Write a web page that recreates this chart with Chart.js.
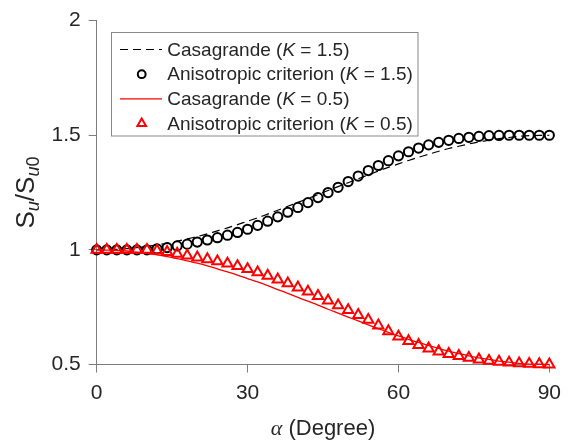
<!DOCTYPE html>
<html>
<head>
<meta charset="utf-8">
<script src="https://cdn.jsdelivr.net/npm/chart.js@4.4.1/dist/chart.umd.min.js"></script>
<style>
  html, body { margin: 0; padding: 0; background: #ffffff; }
  #wrap { width: 569px; height: 440px; }
</style>
</head>
<body>
<div id="wrap"><canvas id="c" width="569" height="440"></canvas></div>
<script>
// Inclination angle of the loading direction (degrees)
const alphaDeg = [0, 2, 4, 6, 8, 10, 12, 14, 16, 18, 20, 22, 24, 26, 28, 30, 32, 34, 36, 38, 40, 42, 44,
  46, 48, 50, 52, 54, 56, 58, 60, 62, 64, 66, 68, 70, 72, 74, 76, 78, 80, 82, 84, 86, 88, 90];

// Casagrande, K = 1.5
const casaK15 = [1.000, 1.001, 1.002, 1.005, 1.010, 1.015, 1.022, 1.029, 1.038, 1.048, 1.058, 1.070,
  1.083, 1.096, 1.110, 1.125, 1.140, 1.156, 1.173, 1.190, 1.207, 1.224, 1.241, 1.259, 1.276, 1.293,
  1.310, 1.327, 1.344, 1.360, 1.375, 1.390, 1.404, 1.417, 1.430, 1.442, 1.452, 1.462, 1.471, 1.478,
  1.485, 1.490, 1.495, 1.498, 1.499, 1.500];

// Anisotropic criterion, K = 1.5
const anisoK15 = [1.000, 1.000, 1.000, 1.000, 1.000, 1.000, 1.004, 1.010, 1.017, 1.025, 1.034, 1.043,
  1.053, 1.064, 1.076, 1.090, 1.107, 1.125, 1.144, 1.164, 1.185, 1.206, 1.228, 1.250, 1.273, 1.298,
  1.322, 1.346, 1.368, 1.389, 1.410, 1.428, 1.444, 1.458, 1.469, 1.478, 1.486, 1.491, 1.495, 1.498,
  1.499, 1.500, 1.500, 1.500, 1.500, 1.500];

// Casagrande, K = 0.5
const casaK05 = [1.000, 0.999, 0.998, 0.995, 0.990, 0.985, 0.978, 0.971, 0.962, 0.952, 0.942, 0.930,
  0.917, 0.904, 0.890, 0.875, 0.860, 0.844, 0.827, 0.810, 0.793, 0.776, 0.759, 0.741, 0.724, 0.707,
  0.690, 0.673, 0.656, 0.640, 0.625, 0.610, 0.596, 0.583, 0.570, 0.558, 0.548, 0.538, 0.529, 0.522,
  0.515, 0.510, 0.505, 0.502, 0.501, 0.500];

// Anisotropic criterion, K = 0.5
const anisoK05 = [1.000, 1.000, 1.000, 1.000, 1.000, 1.000, 0.997, 0.991, 0.983, 0.975, 0.967, 0.959,
  0.950, 0.940, 0.929, 0.916, 0.902, 0.887, 0.871, 0.854, 0.836, 0.818, 0.799, 0.779, 0.758, 0.737,
  0.716, 0.695, 0.670, 0.645, 0.622, 0.602, 0.585, 0.570, 0.557, 0.546, 0.537, 0.529, 0.522, 0.516,
  0.512, 0.508, 0.505, 0.503, 0.501, 0.500];

const xTicks = [0, 30, 60, 90];
const yTicks = [0.5, 1, 1.5, 2];

const seriesNames = ['Casagrande', 'Anisotropic criterion', 'Casagrande', 'Anisotropic criterion'];
const kValues = ['1.5', '1.5', '0.5', '0.5'];

const FONT = "'Liberation Sans', Arial, Helvetica, sans-serif";
const AXIS_GREY = '#7d7d7d';
const TEXT_GREY = '#262626';

const toPoints = ys => alphaDeg.map((a, i) => ({ x: a, y: ys[i] }));

const datasets = [
  {
    label: seriesNames[0] + ' (K = ' + kValues[0] + ')',
    data: toPoints(casaK15),
    borderColor: '#000000', borderWidth: 1.2, borderDash: [8, 5],
    pointRadius: 0, tension: 0.3, fill: false, order: 4, clip: false
  },
  {
    label: seriesNames[1] + ' (K = ' + kValues[1] + ')',
    data: toPoints(anisoK15),
    showLine: false, pointStyle: 'circle', pointRadius: 4.6,
    pointBorderWidth: 2, pointBorderColor: '#000000', pointBackgroundColor: 'rgba(0,0,0,0)',
    order: 3, clip: false
  },
  {
    label: seriesNames[2] + ' (K = ' + kValues[2] + ')',
    data: toPoints(casaK05),
    borderColor: '#ff0000', borderWidth: 1.3,
    pointRadius: 0, tension: 0.3, fill: false, order: 2, clip: false
  },
  {
    label: seriesNames[3] + ' (K = ' + kValues[3] + ')',
    data: toPoints(anisoK05),
    showLine: false, pointStyle: 'triangle', pointRadius: 5.9,
    pointBorderWidth: 2, pointBorderColor: '#ff0000', pointBackgroundColor: 'rgba(0,0,0,0)',
    order: 1, clip: false
  }
];

// Draw a run of text pieces, some italic, starting at x
function drawRuns(ctx, runs, x, y, size, family) {
  let cx = x;
  runs.forEach(r => {
    ctx.font = (r.italic ? 'italic ' : '') + (r.size || size) + 'px ' + (r.family || family);
    ctx.fillText(r.t, cx, y + (r.dy || 0));
    cx += ctx.measureText(r.t).width;
  });
  return cx - x;
}
function measureRuns(ctx, runs, size, family) {
  let w = 0;
  runs.forEach(r => {
    ctx.font = (r.italic ? 'italic ' : '') + (r.size || size) + 'px ' + (r.family || family);
    w += ctx.measureText(r.t).width;
  });
  return w;
}

function drawMarker(ctx, style, x, y, r, color, lw) {
  ctx.save();
  ctx.strokeStyle = color;
  ctx.lineWidth = lw;
  ctx.beginPath();
  if (style === 'circle') {
    ctx.arc(x, y, r, 0, Math.PI * 2);
  } else {
    let rad = 0;
    ctx.moveTo(x + Math.sin(rad) * r, y - Math.cos(rad) * r);
    rad += 2 * Math.PI / 3;
    ctx.lineTo(x + Math.sin(rad) * r, y - Math.cos(rad) * r);
    rad += 2 * Math.PI / 3;
    ctx.lineTo(x + Math.sin(rad) * r, y - Math.cos(rad) * r);
    ctx.closePath();
  }
  ctx.stroke();
  ctx.restore();
}

const annotations = {
  id: 'annotations',
  afterDraw(chart) {
    const ctx = chart.ctx;
    const area = chart.chartArea;

    // y-axis title: S_u / S_u0
    ctx.save();
    ctx.fillStyle = TEXT_GREY;
    ctx.textBaseline = 'alphabetic';
    const yRuns = [
      { t: 'S' }, { t: 'u', italic: true, size: 18, dy: 5 },
      { t: '/S' }, { t: 'u', italic: true, size: 18, dy: 5 }, { t: '0', size: 18, dy: 5 }
    ];
    const yw = measureRuns(ctx, yRuns, 26, FONT);
    ctx.translate(34, (area.top + area.bottom) / 2);
    ctx.rotate(-Math.PI / 2);
    drawRuns(ctx, yRuns, -yw / 2, 0, 26, FONT);
    ctx.restore();

    // x-axis title: alpha (Degree)
    ctx.save();
    ctx.fillStyle = TEXT_GREY;
    ctx.textBaseline = 'alphabetic';
    const xRuns = [
      { t: '\u03b1', italic: true, family: "'Liberation Serif', 'DejaVu Serif', serif" },
      { t: ' (Degree)' }
    ];
    const xw = measureRuns(ctx, xRuns, 22, FONT);
    drawRuns(ctx, xRuns, (area.left + area.right) / 2 - xw / 2, 435, 22, FONT);
    ctx.restore();

    // legend
    const box = { x: 111.5, y: 32.5, w: 306.5, h: 103.5 };
    ctx.save();
    ctx.fillStyle = '#ffffff';
    ctx.fillRect(box.x, box.y, box.w, box.h);
    ctx.strokeStyle = '#8a8a8a';
    ctx.lineWidth = 1;
    ctx.strokeRect(box.x, box.y, box.w, box.h);
    const rowY = [49.5, 74.2, 98.9, 123.6];
    datasets.forEach((ds, i) => {
      const y = rowY[i];
      if (ds.showLine === false) {
        drawMarker(ctx, ds.pointStyle, 141.7, y, ds.pointRadius * 0.85, ds.pointBorderColor, ds.pointBorderWidth);
      } else {
        ctx.save();
        ctx.strokeStyle = ds.borderColor;
        ctx.lineWidth = ds.borderWidth;
        ctx.setLineDash(ds.borderDash || []);
        ctx.beginPath();
        ctx.moveTo(120, y);
        ctx.lineTo(162, y);
        ctx.stroke();
        ctx.restore();
      }
      ctx.fillStyle = TEXT_GREY;
      ctx.textBaseline = 'middle';
      drawRuns(ctx, [
        { t: seriesNames[i] + ' (' }, { t: 'K', italic: true }, { t: ' = ' + kValues[i] + ')' }
      ], 167.3, y + 1, 19, FONT);
    });
    ctx.restore();
  }
};

new Chart(document.getElementById('c'), {
  type: 'line',
  data: { datasets },
  options: {
    responsive: false,
    animation: false,
    devicePixelRatio: 1,
    layout: { padding: { left: 0, right: 12, top: 17, bottom: 0 } },
    plugins: { legend: { display: false }, tooltip: { enabled: false } },
    scales: {
      x: {
        type: 'linear', min: 0, max: 90,
        afterBuildTicks: s => { s.ticks = xTicks.map(v => ({ value: v })); },
        afterFit: s => { s.height = 75.5; },
        grid: { display: true, drawOnChartArea: false, drawTicks: true, tickLength: 8, color: AXIS_GREY, lineWidth: 1 },
        border: { display: true, color: AXIS_GREY, width: 1 },
        ticks: { color: TEXT_GREY, font: { family: FONT, size: 21 }, padding: 8, maxRotation: 0,
                 callback: v => String(v) }
      },
      y: {
        type: 'linear', min: 0.5, max: 2,
        afterBuildTicks: s => { s.ticks = yTicks.map(v => ({ value: v })); },
        afterFit: s => { s.width = 96.7; },
        grid: { display: true, drawOnChartArea: false, drawTicks: true, tickLength: 8, color: AXIS_GREY, lineWidth: 1 },
        border: { display: true, color: AXIS_GREY, width: 1 },
        ticks: { color: TEXT_GREY, font: { family: FONT, size: 21 }, padding: 8,
                 callback: v => String(v) }
      }
    }
  },
  plugins: [annotations]
});
</script>
</body>
</html>
